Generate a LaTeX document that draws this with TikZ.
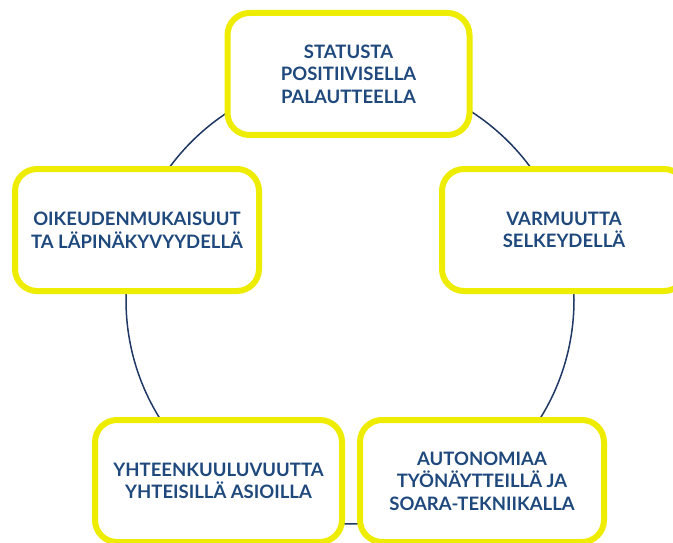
\documentclass[tikz,border=0pt]{standalone}
\usepackage{fontspec}
\setmainfont{Lato}
\usepackage{xcolor}
\usepackage{tikz}
\usetikzlibrary{positioning, backgrounds}
\definecolor{frame}{RGB}{238, 236, 0}
\definecolor{ink}{RGB}{31, 73, 125}
\definecolor{ring}{RGB}{31, 56, 100}
\tikzstyle{topic} = [rectangle, rounded corners=22pt, minimum width=242pt, minimum height=122pt, align=center, draw=frame, line width=6pt, fill=white, text=ink, font=\fontsize{18.5}{22.5}\selectfont\bfseries]
\tikzstyle{circuit} = [draw=ring, line width=1.5pt]

\begin{document}
\begin{tikzpicture}[x=1pt, y=-1pt]
    \useasboundingbox (0, 0) rectangle (673, 543);
    \coordinate (mid) at (350, 300);

    \node[topic] (status) at (348.5, 74) {STATUSTA\\POSITIIVISELLA\\PALAUTTEELLA};
    \node[topic, minimum width=244pt] (varmuus) at (564, 230) {VARMUUTTA\\SELKEYDELLÄ};
    \node[topic, minimum width=244pt] (autonomia) at (482, 481) {AUTONOMIAA\\TYÖNÄYTTEILLÄ JA\\SOARA-TEKNIIKALLA};
    \node[topic, minimum width=247pt] (yhteys) at (218.5, 481) {YHTEENKUULUVUUTTA\\YHTEISILLÄ ASIOILLA};
    \node[topic, minimum width=244pt] (oikeus) at (137, 230) {OIKEUDENMUKAISUUT\\TA LÄPINÄKYVYYDELLÄ};

    % Ring
    \begin{scope}[on background layer]
        \draw[circuit] (mid) circle (224pt);
    \end{scope}
\end{tikzpicture}
\end{document}
